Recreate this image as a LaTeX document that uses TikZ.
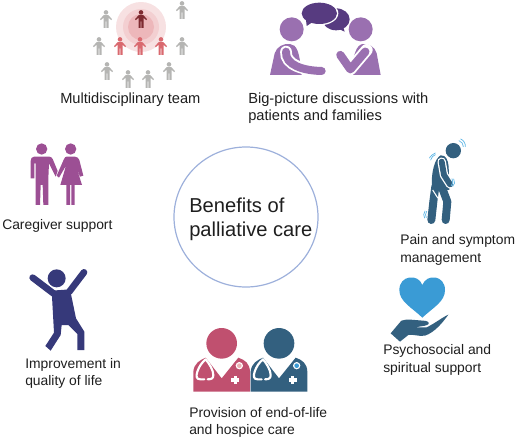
\documentclass[tikz,border=0pt]{standalone}
\usepackage{fontspec}
\setmainfont{Liberation Sans}
\usetikzlibrary{shapes.geometric}
\definecolor{txt}{HTML}{1E1E1E}
\definecolor{ring}{HTML}{9DB0DB}
\definecolor{tgray}{HTML}{B5B5B3}
\definecolor{tred}{HTML}{D9696F}
\definecolor{tdark}{HTML}{7E2A30}
\definecolor{purp}{HTML}{9A70B0}
\definecolor{dpurp}{HTML}{573B80}
\definecolor{steel}{HTML}{33607F}
\definecolor{skyb}{HTML}{3A9BD5}
\definecolor{lsky}{HTML}{63B8E6}
\definecolor{rose}{HTML}{C0506F}
\definecolor{navyf}{HTML}{36397A}
\definecolor{magf}{HTML}{9C4F94}
\tikzset{
  lab/.style={anchor=base west,inner sep=0pt,font=\fontsize{10.4pt}{12pt}\selectfont,text=txt},
  widelab/.style={lab,font=\fontsize{11pt}{12pt}\selectfont},
  biglab/.style={anchor=base west,inner sep=0pt,font=\fontsize{15.1pt}{18pt}\selectfont,text=txt},
  vib/.style={draw=lsky,line width=0.55pt,line cap=round,fill=none},
  steth/.style={draw=white,line width=1.6pt,line cap=round,line join=round},
}
\newcommand{\teamfig}[3]{%
  \begin{scope}[shift={(#1,#2)}]
    \fill[#3] (0,-6.6) circle (2.3);
    \fill[#3] (-2.4,-3.8) -- (2.4,-3.8) -- (6,0.2) -- (5.2,1.1) -- (2.5,-1.2) -- (2.5,9) -- (0.5,9) -- (0.3,2.5) -- (-0.3,2.5) -- (-0.5,9) -- (-2.5,9) -- (-2.5,-1.2) -- (-5.2,1.1) -- (-6,0.2) -- cycle;
  \end{scope}}
\begin{document}
\begin{tikzpicture}[x=0.75pt,y=-0.75pt]
\useasboundingbox (0,0) rectangle (520,438);
% centre
\node[draw=ring,line width=0.9pt,ellipse,minimum width=108pt,minimum height=105pt,inner sep=0pt] (ringnode) at (246,217) {};
\node[biglab] (centre) at (189,212) {Benefits of};
\node[biglab] (centreb) at (189,236) {palliative care};
% labels
\node[widelab] (l1) at (60,104) {Multidisciplinary team};
\node[widelab] (l2) at (248,104) {Big-picture discussions with};
\node[widelab] (l2b) at (248,121) {patients and families};
\node[lab] (l3) at (2,229) {Caregiver support};
\node[lab] (l4) at (400,244) {Pain and symptom};
\node[lab] (l4b) at (400,262) {management};
\node[lab] (l5) at (383,354) {Psychosocial and};
\node[lab] (l5b) at (383,372) {spiritual support};
\node[lab] (l6) at (25,368) {Improvement in};
\node[lab] (l6b) at (25,385) {quality of life};
\node[lab] (l7) at (189,417) {Provision of end-of-life};
\node[lab] (l7b) at (189,434) {and hospice care};
% team
\fill[tred!20] (141,27) circle (25);
\fill[tred!32] (141,27) circle (18);
\fill[tred!48] (141,27) circle (13);
\teamfig{141}{19}{tdark}
\foreach \x/\y in {106/19,182/10,99/46,182/46,107/71,128/79,148/79,169/71}{\teamfig{\x}{\y}{tgray}}
\foreach \x in {120,140,161}{\teamfig{\x}{46}{tred}}
% discussion
\begin{scope}[shift={(260,0)},scale=1/3]
  \fill[dpurp] (228,58) ellipse (41 and 33);
  \fill[dpurp] (232,85) -- (254,95) -- (248,75) -- cycle;
  \fill[white] (178,40) ellipse (57 and 36);
  \fill[dpurp] (178,40) ellipse (53 and 32);
  \fill[dpurp] (140,78) -- (158,66) -- (138,60) -- cycle;
  \fill[purp] (95,88) circle (36);
  \fill[purp] (302,88) circle (36);
  % left body
  \fill[purp] (30,225) -- (44,160) .. controls (50,140) and (70,130) .. (90,132) .. controls (110,135) and (118,150) .. (125,225) -- cycle;
  \draw[white,line width=8.8pt,line cap=round] (78,155) .. controls (75,195) and (130,212) .. (200,213);
  \draw[purp,line width=6pt,line cap=round] (78,155) .. controls (75,195) and (130,212) .. (185,213);
  % right body
  \fill[purp] (362,225) -- (350,160) .. controls (345,140) and (325,130) .. (308,132) .. controls (290,135) and (280,160) .. (272,225) -- cycle;
  \draw[white,line width=9pt,line join=round,line cap=round] (232,155) -- (271,208) -- (320,150);
  \draw[purp,line width=6.2pt,line join=round,line cap=round] (241,165) -- (271,208) -- (316,155);
\end{scope}
% pain
\begin{scope}[shift={(410,130)},scale=1/3]
  \fill[steel] (130,62) circle (23);
  \fill[steel] (92,76) .. controls (75,85) and (62,125) .. (66,180) -- (118,180) -- (116,110) .. controls (114,90) and (108,75) .. (92,76) -- cycle;
  \draw[steel,line width=6pt,line cap=round,line join=round] (76,170) -- (70,215) -- (64,270);
  \draw[steel,line width=6pt,line cap=round,line join=round] (95,170) -- (112,215) -- (107,270);
  \draw[white,line width=0.8pt] (68,180) -- (84,205);
  \draw[white,line width=6.3pt,line cap=round,line join=round] (95,95) -- (102,135) -- (120,163);
  \draw[steel,line width=4.4pt,line cap=round,line join=round] (95,95) -- (102,135) -- (120,163);
  \draw[vib] (147,32) .. controls (155,35) and (160,42) .. (160,50);
  \draw[vib] (152,27) .. controls (160,30) and (167,40) .. (166,50);
  \draw[vib] (62,90) .. controls (64,82) and (70,76) .. (76,74);
  \draw[vib] (58,84) .. controls (62,78) and (68,72) .. (76,69);
  \draw[vib] (131,147) .. controls (136,155) and (134,165) .. (128,169);
  \draw[vib] (126,146) .. controls (130,153) and (129,163) .. (124,167);
  \draw[vib] (45,243) .. controls (40,250) and (40,258) .. (44,264);
  \draw[vib] (50,244) .. controls (45,250) and (46,258) .. (49,263);
\end{scope}
% heart
\begin{scope}[shift={(380,270)},scale=1/3]
  \fill[skyb] (127,143) .. controls (95,112) and (58,95) .. (58,60) .. controls (58,15) and (115,10) .. (127,45) .. controls (140,10) and (195,15) .. (195,60) .. controls (195,95) and (160,112) .. (127,143) -- cycle;
  \fill[steel] (32,190) -- (64,152) .. controls (80,146) and (100,150) .. (130,152) .. controls (150,153) and (152,164) .. (135,167) -- (105,172) -- (140,172) .. controls (165,160) and (190,140) .. (205,134) .. controls (190,155) and (165,187) .. (135,197) .. controls (115,200) and (100,192) .. (85,195) -- (60,215) -- cycle;
\end{scope}
% doctors
\foreach \dx/\col/\dotc in {0/rose/tred!50,172/steel/skyb}{
\begin{scope}[shift={(185+\dx/3,320)},scale=1/3]
  \fill[\col] (110,70) circle (46);
  \fill[\col] (25,215) -- (25,155) .. controls (27,130) and (45,120) .. (62,113) -- (110,175) -- (160,113) .. controls (180,120) and (194,130) .. (195,155) -- (195,215) -- cycle;
  \draw[steth] (58,178) -- (46,178) .. controls (33,178) and (33,168) .. (37,155) .. controls (42,140) and (50,128) .. (62,118) .. controls (72,130) and (85,150) .. (85,165) .. controls (85,175) and (80,178) .. (68,178);
  \fill[white] (163,137) circle (11);
  \fill[\dotc] (163,137) circle (7);
  \fill[white] (146,168) rectangle (156,192);
  \fill[white] (139,175) rectangle (163,185);
\end{scope}}
% jumping
\begin{scope}[shift={(20,260)},scale=1/3]
  \fill[navyf] (110,55) circle (27);
  \fill[navyf] (95,92) -- (150,88) -- (168,175) -- (193,215) -- (193,270) -- (172,270) -- (172,222) -- (145,195) -- (125,195) -- (122,225) -- (92,272) -- (76,258) -- (102,218) -- cycle;
  \draw[navyf,line width=5pt,line cap=round] (38,53) -- (100,100);
  \draw[navyf,line width=5pt,line cap=round] (192,37) -- (148,95);
\end{scope}
% couple
\begin{scope}[shift={(20,135)},scale=1/3]
  \fill[magf] (65,42) circle (17);
  \fill[magf] (152,42) circle (17);
  \fill[magf] (42,65) -- (88,65) .. controls (92,65) and (96,68) .. (98,72) -- (113,108) -- (107,125) -- (87,85) -- (85,130) -- (85,210) -- (70,210) -- (68,150) -- (62,150) -- (60,210) -- (47,210) -- (47,85) -- (43,85) -- (43,130) -- (32,130) -- (32,78) .. controls (32,70) and (36,65) .. (42,65) -- cycle;
  \fill[magf] (140,65) -- (165,65) .. controls (172,65) and (176,70) .. (178,75) -- (190,122) -- (180,125) -- (167,90) -- (186,150) -- (164,150) -- (164,210) -- (154,210) -- (154,150) -- (150,150) -- (150,210) -- (139,210) -- (139,150) -- (121,150) -- (138,92) -- (117,128) -- (110,122) -- (132,72) .. controls (134,67) and (137,65) .. (140,65) -- cycle;
\end{scope}
\end{tikzpicture}
\end{document}
